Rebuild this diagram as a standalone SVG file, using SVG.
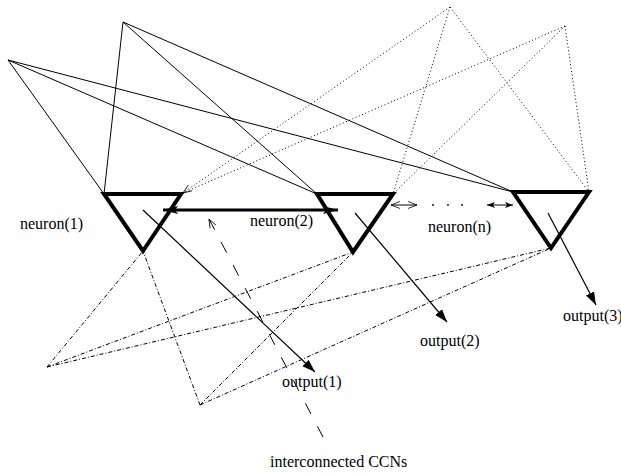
<svg xmlns="http://www.w3.org/2000/svg" width="621" height="473" viewBox="0 0 621 473">
<style>
  .solid{stroke:#000;stroke-width:1;fill:none}
  .dot{stroke:#000;stroke-width:1;fill:none;stroke-dasharray:1 2.5}
  .dashdot{stroke:#000;stroke-width:1;fill:none;stroke-dasharray:4 2 1 2}
  .dash{stroke:#000;stroke-width:1;fill:none;stroke-dasharray:12 14}
  .tri{stroke:#000;stroke-width:4;fill:none;stroke-linejoin:miter}
  .out{stroke:#000;stroke-width:1.2;fill:none}
  .thick{stroke:#000;stroke-width:3;fill:none}
  .lbl{font-family:"Liberation Serif","Times New Roman",serif;font-size:16px;fill:#000}
</style>
<defs>
  <marker id="af" markerUnits="userSpaceOnUse" markerWidth="14" markerHeight="10" refX="13" refY="5" orient="auto-start-reverse">
    <path d="M0,0.5 L13,5 L0,9.5 z" fill="#000"/>
  </marker>
  <marker id="ab" markerUnits="userSpaceOnUse" markerWidth="16" markerHeight="10" refX="15" refY="5" orient="auto-start-reverse">
    <path d="M0,1 L15,5 L0,9 L3,5 z" fill="#000"/>
  </marker>
  <marker id="as" markerUnits="userSpaceOnUse" markerWidth="9" markerHeight="7" refX="8" refY="3.5" orient="auto-start-reverse">
    <path d="M0,0.5 L8,3.5 L0,6.5 L2,3.5 z" fill="#000"/>
  </marker>
  <marker id="ao" markerUnits="userSpaceOnUse" markerWidth="10" markerHeight="8" refX="9" refY="4" orient="auto-start-reverse">
    <path d="M0,0.5 L9,4 L0,7.5" fill="none" stroke="#000" stroke-width="0.8"/>
  </marker>
</defs>

<g id="connectors">
  <path class="solid" d="M8,60 L104,194 M8,60 L317,194 M8,60 L513,192"/>
  <path class="solid" d="M123,22 L104,194 M123,22 L317,194 M123,22 L513,192"/>
  <path class="dot" d="M450,7 L393,194 M450,7 L589,192"/>
  <path class="dot" d="M565,26 L393,194 M565,26 L589,192"/>
  <line class="dot" x1="450" y1="7" x2="183" y2="193" marker-end="url(#ao)"/>
  <line class="dot" x1="565" y1="26" x2="183" y2="193"/>
  <path class="dashdot" d="M47,367 L143,251 M47,367 L353,252 M47,367 L551,248"/>
  <path class="dashdot" d="M200,405 L143,251 M200,405 L353,252 M200,405 L551,248"/>
  <line class="out" x1="143" y1="210" x2="315" y2="372" marker-end="url(#af)"/>
  <line class="out" x1="355" y1="213" x2="447" y2="322" marker-end="url(#af)"/>
  <line class="out" x1="548" y1="213" x2="596" y2="305" marker-end="url(#af)"/>
  <line class="thick" x1="163" y1="210" x2="338" y2="210" marker-start="url(#ab)" marker-end="url(#ab)"/>
  <line class="solid" x1="391" y1="205" x2="417" y2="205" marker-start="url(#ao)" marker-end="url(#ao)"/>
  <line class="solid" x1="487" y1="205" x2="513" y2="205" marker-start="url(#as)" marker-end="url(#as)"/>
  <g fill="#000">
    <circle cx="433" cy="205" r="0.9"/>
    <circle cx="448" cy="205" r="0.9"/>
    <circle cx="462" cy="205" r="0.9"/>
  </g>
  <line class="dash" x1="323" y1="437" x2="209" y2="219" marker-end="url(#ao)"/>
</g>

<g id="neuron1">
  <polygon class="tri" points="104,194 181,194 143,251"/>
  <text class="lbl" x="20" y="229">neuron(1)</text>
</g>
<g id="neuron2">
  <polygon class="tri" points="317,194 393,194 353,252"/>
  <text class="lbl" x="250" y="226">neuron(2)</text>
</g>
<g id="neuronN">
  <polygon class="tri" points="513,192 589,192 551,248"/>
  <text class="lbl" x="428" y="232">neuron(n)</text>
</g>
<g id="output1"><text class="lbl" x="282" y="387">output(1)</text></g>
<g id="output2"><text class="lbl" x="420" y="346">output(2)</text></g>
<g id="output3"><text class="lbl" x="563" y="321">output(3)</text></g>
<g id="ccns"><text class="lbl" x="270" y="467">interconnected CCNs</text></g>
</svg>
